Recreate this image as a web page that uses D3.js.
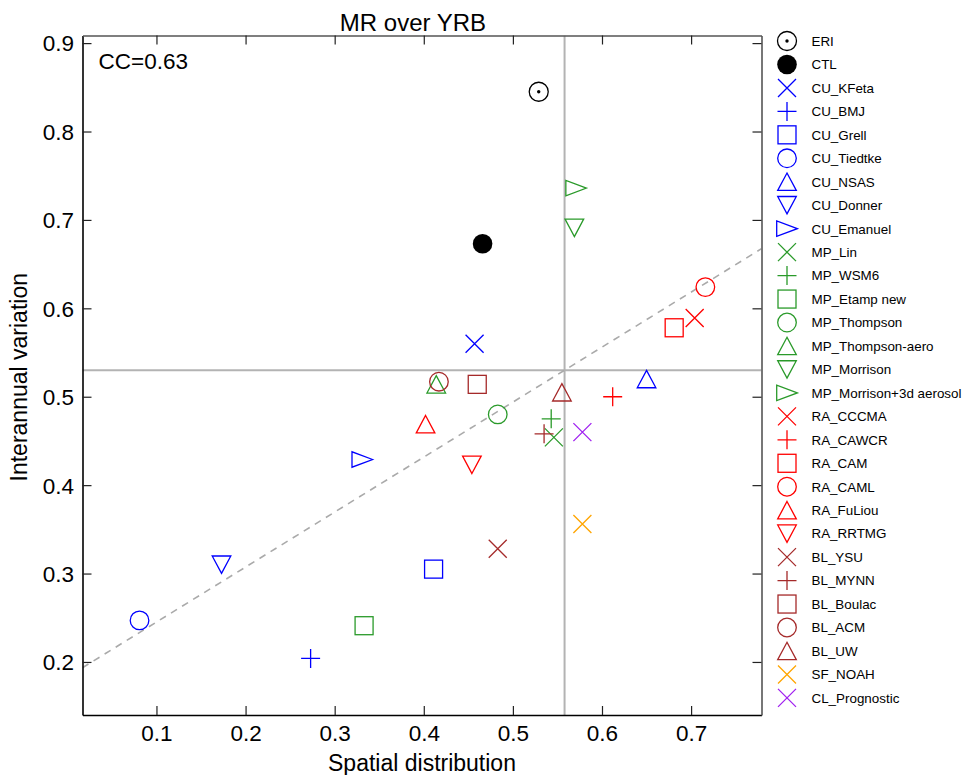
<!DOCTYPE html>
<html>
<head>
<meta charset="utf-8">
<script src="https://cdn.jsdelivr.net/npm/d3@7/dist/d3.min.js"></script>
<style>
  html, body { margin: 0; padding: 0; background: #fff; }
  svg { display: block; font-family: "Liberation Sans", Arial, Helvetica, sans-serif; }
</style>
</head>
<body>
<svg id="chart" width="963" height="775"></svg>
<script>
// Sensitivity experiments: spatial-distribution skill vs. interannual-variation skill
const experiments = [
  "ERI", "CTL",
  "CU_KFeta", "CU_BMJ", "CU_Grell", "CU_Tiedtke", "CU_NSAS", "CU_Donner", "CU_Emanuel",
  "MP_Lin", "MP_WSM6", "MP_Etamp new", "MP_Thompson", "MP_Thompson-aero", "MP_Morrison", "MP_Morrison+3d aerosol",
  "RA_CCCMA", "RA_CAWCR", "RA_CAM", "RA_CAML", "RA_FuLiou", "RA_RRTMG",
  "BL_YSU", "BL_MYNN", "BL_Boulac", "BL_ACM", "BL_UW",
  "SF_NOAH", "CL_Prognostic"
];
const spatial = [
  0.529, 0.466,
  0.457, 0.273, 0.411, 0.081, 0.650, 0.173, 0.331,
  0.546, 0.543, 0.333, 0.483, 0.414, 0.569, 0.571,
  0.704, 0.612, 0.681, 0.716, 0.402, 0.454,
  0.483, 0.535, 0.460, 0.417, 0.555,
  0.578, 0.578
];
const interannual = [
  0.845, 0.673,
  0.560, 0.204, 0.305, 0.247, 0.520, 0.310, 0.429,
  0.454, 0.475, 0.241, 0.480, 0.514, 0.691, 0.736,
  0.589, 0.500, 0.578, 0.624, 0.469, 0.423,
  0.328, 0.458, 0.514, 0.517, 0.505,
  0.356, 0.460
];
const xTicks = [0.1, 0.2, 0.3, 0.4, 0.5, 0.6, 0.7];
const yTicks = [0.2, 0.3, 0.4, 0.5, 0.6, 0.7, 0.8, 0.9];
const xDomain = [0.017, 0.779];
const yDomain = [0.140, 0.9086];
// reference cross-hairs and fitted line
const refSpatial = 0.558;
const refInterannual = 0.530;
const fitSlope = 0.622;
const ccText = "CC=0.63";

// marker styling
const markerShapes = [
  "dotcircle", "filled",
  "x", "plus", "square", "circle", "up", "down", "right",
  "x", "plus", "square", "circle", "up", "down", "right",
  "x", "plus", "square", "circle", "up", "down",
  "x", "plus", "square", "circle", "up",
  "x", "x"
];
const groupColor = { CU: "#0000ff", MP: "#2a9a2a", RA: "#ff0000", BL: "#a52a2a", SF: "#ffa500", CL: "#a020f0" };
function colorOf(name) {
  const g = name.split("_")[0];
  return groupColor[g] || "#000000";
}

const svg = d3.select("#chart");
const L = 82.5, R = 761.5, T = 35.5, B = 715;

const x = d3.scaleLinear().domain(xDomain).range([L, R]);
const y = d3.scaleLinear().domain(yDomain).range([B, T]);

svg.append("defs").append("clipPath").attr("id", "plotClip")
  .append("rect").attr("x", L).attr("y", T).attr("width", R - L).attr("height", B - T);

const plot = svg.append("g").attr("clip-path", "url(#plotClip)");

// reference lines
plot.append("line")
  .attr("x1", x(refSpatial)).attr("x2", x(refSpatial))
  .attr("y1", T).attr("y2", B)
  .attr("stroke", "#b3b3b3").attr("stroke-width", 2);
plot.append("line")
  .attr("x1", L).attr("x2", R)
  .attr("y1", y(refInterannual)).attr("y2", y(refInterannual))
  .attr("stroke", "#b3b3b3").attr("stroke-width", 2);

// fitted line through the reference point
const fit = v => refInterannual + fitSlope * (v - refSpatial);
plot.append("line")
  .attr("x1", x(xDomain[0])).attr("y1", y(fit(xDomain[0])))
  .attr("x2", x(xDomain[1])).attr("y2", y(fit(xDomain[1])))
  .attr("stroke", "#aaaaaa").attr("stroke-width", 1.6)
  .attr("stroke-dasharray", "7,6");

function drawMarker(g, shape, color) {
  const sw = 1.3;
  switch (shape) {
    case "dotcircle":
      g.append("circle").attr("r", 9.5).attr("fill", "none").attr("stroke", "#000").attr("stroke-width", sw);
      g.append("circle").attr("r", 1.7).attr("fill", "#000");
      break;
    case "filled":
      g.append("circle").attr("r", 9.8).attr("fill", "#000");
      break;
    case "x":
      g.append("path").attr("d", "M-9,-9L9,9M-9,9L9,-9").attr("stroke", color).attr("stroke-width", sw).attr("fill", "none");
      break;
    case "plus":
      g.append("path").attr("d", "M-9.5,0H9.5M0,-9.5V9.5").attr("stroke", color).attr("stroke-width", sw).attr("fill", "none");
      break;
    case "square":
      g.append("rect").attr("x", -9).attr("y", -9).attr("width", 18).attr("height", 18)
        .attr("stroke", color).attr("stroke-width", sw).attr("fill", "none");
      break;
    case "circle":
      g.append("circle").attr("r", 9.3).attr("stroke", color).attr("stroke-width", sw).attr("fill", "none");
      break;
    case "up":
      g.append("path").attr("d", "M0,-8.7L9.3,8.7L-9.3,8.7Z").attr("stroke", color).attr("stroke-width", sw).attr("fill", "none");
      break;
    case "down":
      g.append("path").attr("d", "M0,8.7L9.3,-8.7L-9.3,-8.7Z").attr("stroke", color).attr("stroke-width", sw).attr("fill", "none");
      break;
    case "right":
      g.append("path").attr("d", "M10.3,0L-10.3,-7.7L-10.3,7.7Z").attr("stroke", color).attr("stroke-width", sw).attr("fill", "none");
      break;
  }
}

// points
experiments.forEach((name, i) => {
  const g = plot.append("g").attr("transform", `translate(${x(spatial[i])},${y(interannual[i])})`);
  drawMarker(g, markerShapes[i], colorOf(name));
});

// axes (inward ticks on all four sides)
const fmt = d3.format(".1f");
const tickFont = "22.5px";
const axB = svg.append("g").attr("transform", `translate(0,${B})`)
  .call(d3.axisBottom(x).tickValues(xTicks).tickFormat(fmt).tickSizeInner(-9).tickSizeOuter(0).tickPadding(10));
const axL = svg.append("g").attr("transform", `translate(${L},0)`)
  .call(d3.axisLeft(y).tickValues(yTicks).tickFormat(fmt).tickSizeInner(-9).tickSizeOuter(0).tickPadding(8.5));
const axT = svg.append("g").attr("transform", `translate(0,${T})`)
  .call(d3.axisTop(x).tickValues(xTicks).tickFormat("").tickSizeInner(-9).tickSizeOuter(0));
const axR = svg.append("g").attr("transform", `translate(${R},0)`)
  .call(d3.axisRight(y).tickValues(yTicks).tickFormat("").tickSizeInner(-9).tickSizeOuter(0));

[axB, axL].forEach(a => {
  a.selectAll("text").attr("font-size", tickFont).attr("fill", "#000").attr("font-family", null);
  a.select(".domain").attr("stroke", "#000").attr("stroke-width", 1.6);
  a.selectAll(".tick line").attr("stroke", "#222").attr("stroke-width", 1.2);
});
[axT, axR].forEach(a => {
  a.select(".domain").attr("stroke", "#555").attr("stroke-width", 1.6);
  a.selectAll(".tick line").attr("stroke", "#222").attr("stroke-width", 1.2);
});
axL.selectAll("text").attr("dy", "0.35em");

// titles and annotation
svg.append("text").attr("x", 413).attr("y", 31).attr("text-anchor", "middle")
  .attr("font-size", "24px").attr("fill", "#000").text("MR over YRB");
svg.append("text").attr("x", (L + R) / 2).attr("y", 771).attr("text-anchor", "middle")
  .attr("font-size", "23px").attr("fill", "#000").text("Spatial distribution");
svg.append("text").attr("transform", `translate(27,${(T + B) / 2 + 2}) rotate(-90)`).attr("text-anchor", "middle")
  .attr("font-size", "23px").attr("fill", "#000").text("Interannual variation");
svg.append("text").attr("x", 98.5).attr("y", 69).attr("font-size", "22.5px").attr("fill", "#000").text(ccText);

// legend
const legend = svg.append("g");
const legTop = 41, legStep = 23.46;
experiments.forEach((name, i) => {
  const row = legend.append("g").attr("transform", `translate(787,${legTop + i * legStep})`);
  drawMarker(row, markerShapes[i], colorOf(name));
  row.append("text").attr("x", 24.5).attr("dy", "0.36em")
    .attr("font-size", "13.4px").attr("fill", "#000").text(name);
});
</script>
</body>
</html>
